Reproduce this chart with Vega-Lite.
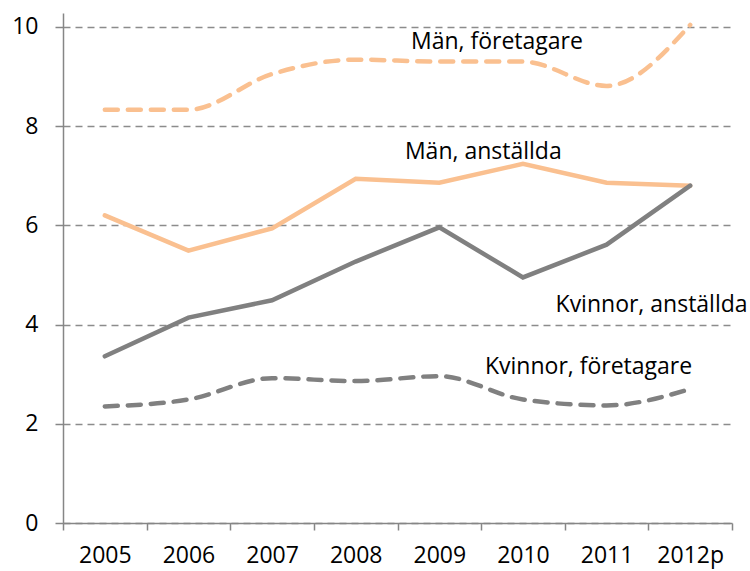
{
  "$schema": "https://vega.github.io/schema/vega-lite/v6.json",
  "width": 669,
  "height": 510,
  "autosize": {"type": "none"},
  "padding": {"left": 63, "top": 13, "right": 18, "bottom": 48},
  "background": "white",
  "config": {
    "view": {"stroke": null},
    "font": "Open Sans",
    "axis": {
      "labelFont": "Open Sans",
      "labelFontSize": 23,
      "labelColor": "#000000",
      "domainColor": "#868686",
      "domainWidth": 1.5,
      "tickColor": "#868686",
      "tickWidth": 1.5,
      "title": null
    }
  },
  "datasets": {
    "series": [
      {"year": "2005", "series": "Män, företagare", "value": 8.33},
      {"year": "2006", "series": "Män, företagare", "value": 8.33},
      {"year": "2007", "series": "Män, företagare", "value": 9.05},
      {"year": "2008", "series": "Män, företagare", "value": 9.34},
      {"year": "2009", "series": "Män, företagare", "value": 9.3},
      {"year": "2010", "series": "Män, företagare", "value": 9.3},
      {"year": "2011", "series": "Män, företagare", "value": 8.81},
      {"year": "2012p", "series": "Män, företagare", "value": 10.04},
      {"year": "2005", "series": "Män, anställda", "value": 6.2},
      {"year": "2006", "series": "Män, anställda", "value": 5.49},
      {"year": "2007", "series": "Män, anställda", "value": 5.94},
      {"year": "2008", "series": "Män, anställda", "value": 6.94},
      {"year": "2009", "series": "Män, anställda", "value": 6.86},
      {"year": "2010", "series": "Män, anställda", "value": 7.24},
      {"year": "2011", "series": "Män, anställda", "value": 6.86},
      {"year": "2012p", "series": "Män, anställda", "value": 6.8},
      {"year": "2005", "series": "Kvinnor, anställda", "value": 3.36},
      {"year": "2006", "series": "Kvinnor, anställda", "value": 4.14},
      {"year": "2007", "series": "Kvinnor, anställda", "value": 4.49},
      {"year": "2008", "series": "Kvinnor, anställda", "value": 5.27},
      {"year": "2009", "series": "Kvinnor, anställda", "value": 5.96},
      {"year": "2010", "series": "Kvinnor, anställda", "value": 4.95},
      {"year": "2011", "series": "Kvinnor, anställda", "value": 5.61},
      {"year": "2012p", "series": "Kvinnor, anställda", "value": 6.8},
      {"year": "2005", "series": "Kvinnor, företagare", "value": 2.35},
      {"year": "2006", "series": "Kvinnor, företagare", "value": 2.49},
      {"year": "2007", "series": "Kvinnor, företagare", "value": 2.92},
      {"year": "2008", "series": "Kvinnor, företagare", "value": 2.86},
      {"year": "2009", "series": "Kvinnor, företagare", "value": 2.96},
      {"year": "2010", "series": "Kvinnor, företagare", "value": 2.49},
      {"year": "2011", "series": "Kvinnor, företagare", "value": 2.37},
      {"year": "2012p", "series": "Kvinnor, företagare", "value": 2.7}
    ],
    "labels": [
      {"label": "Män, företagare", "year": "2010", "value": 9.69},
      {"label": "Män, anställda", "year": "2009", "value": 7.48},
      {"label": "Kvinnor, anställda", "year": "2011", "value": 4.4},
      {"label": "Kvinnor, företagare", "year": "2011", "value": 3.15}
    ]
  },
  "encoding": {
    "x": {
      "field": "year",
      "type": "ordinal",
      "bandPosition": 0.5,
      "scale": {"type": "band", "paddingInner": 0, "paddingOuter": 0, "domain": ["2005", "2006", "2007", "2008", "2009", "2010", "2011", "2012p"]},
      "axis": {"labelAngle": 0, "tickBand": "extent", "tickSize": 7, "labelPadding": 14, "grid": false}
    },
    "y": {
      "field": "value",
      "type": "quantitative",
      "scale": {"domain": [0, 10.28], "nice": false, "zero": true},
      "axis": {"values": [0, 2, 4, 6, 8, 10], "tickSize": 8, "labelPadding": 17, "grid": true, "gridColor": "#8c8c8c", "gridDash": [7, 5], "gridWidth": 1.5}
    }
  },
  "layer": [
    {
      "data": {"name": "series"},
      "transform": [{"filter": "datum.series === 'Män, företagare'"}],
      "mark": {"type": "line", "color": "#FAC090", "strokeWidth": 4.5, "strokeDash": [13, 10], "strokeCap": "round", "interpolate": "monotone"}
    },
    {
      "data": {"name": "series"},
      "transform": [{"filter": "datum.series === 'Kvinnor, företagare'"}],
      "mark": {"type": "line", "color": "#808080", "strokeWidth": 4.5, "strokeDash": [13, 10], "strokeCap": "round", "interpolate": "monotone"}
    },
    {
      "data": {"name": "series"},
      "transform": [{"filter": "datum.series === 'Män, anställda'"}],
      "mark": {"type": "line", "color": "#FAC090", "strokeWidth": 4.5, "strokeCap": "round"}
    },
    {
      "data": {"name": "series"},
      "transform": [{"filter": "datum.series === 'Kvinnor, anställda'"}],
      "mark": {"type": "line", "color": "#808080", "strokeWidth": 4.5, "strokeCap": "round"}
    },
    {
      "data": {"name": "labels"},
      "transform": [{"filter": "datum.label === 'Män, företagare'"}],
      "mark": {"type": "text", "font": "Open Sans", "fontSize": 23, "color": "#000000", "align": "center", "baseline": "middle", "dx": -26},
      "encoding": {"text": {"field": "label"}}
    },
    {
      "data": {"name": "labels"},
      "transform": [{"filter": "datum.label === 'Män, anställda'"}],
      "mark": {"type": "text", "font": "Open Sans", "fontSize": 23, "color": "#000000", "align": "center", "baseline": "middle", "dx": 44},
      "encoding": {"text": {"field": "label"}}
    },
    {
      "data": {"name": "labels"},
      "transform": [{"filter": "datum.label === 'Kvinnor, anställda'"}],
      "mark": {"type": "text", "font": "Open Sans", "fontSize": 23, "color": "#000000", "align": "center", "baseline": "middle", "dx": 45},
      "encoding": {"text": {"field": "label"}}
    },
    {
      "data": {"name": "labels"},
      "transform": [{"filter": "datum.label === 'Kvinnor, företagare'"}],
      "mark": {"type": "text", "font": "Open Sans", "fontSize": 23, "color": "#000000", "align": "center", "baseline": "middle", "dx": -18},
      "encoding": {"text": {"field": "label"}}
    }
  ]
}
